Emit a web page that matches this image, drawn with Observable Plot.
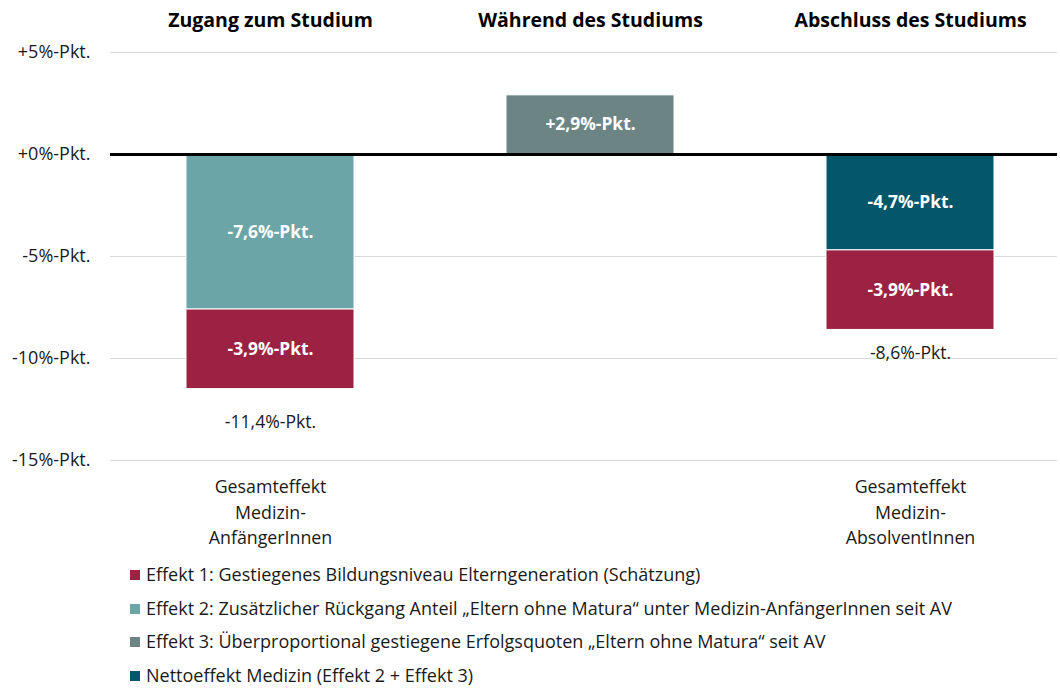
<!DOCTYPE html>
<html><head><meta charset="utf-8">
<script src="https://cdn.jsdelivr.net/npm/d3@7"></script>
<script src="https://cdn.jsdelivr.net/npm/@observablehq/plot@0.6"></script>
<style>
body{margin:0;background:#fff;font-family:"Open Sans",sans-serif;color:#1a1a1a;}
#chart svg{display:block;}
#legend{padding-top:3px;}
.row{height:33.7px;line-height:33.7px;font-size:18px;position:relative;padding-left:146px;white-space:nowrap;}
.sw{position:absolute;left:130px;top:12px;width:10px;height:10px;}
</style></head><body><div id="chart"></div><div id="legend"></div>
<script>
const phases = ["Zugang zum Studium", "Während des Studiums", "Abschluss des Studiums"];
const bottomLabels = ["Gesamteffekt\nMedizin-\nAnfängerInnen", "", "Gesamteffekt\nMedizin-\nAbsolventInnen"];
const seriesNames = [
  "Effekt 1: Gestiegenes Bildungsniveau Elterngeneration (Schätzung)",
  "Effekt 2: Zusätzlicher Rückgang Anteil „Eltern ohne Matura“ unter Medizin-AnfängerInnen seit AV",
  "Effekt 3: Überproportional gestiegene Erfolgsquoten „Eltern ohne Matura“ seit AV",
  "Nettoeffekt Medizin (Effekt 2 + Effekt 3)"
];
const seriesColors = ["#9c2243", "#6ca5a7", "#6d8485", "#04566a"];
const barPhase = [0, 0, 1, 2, 2];
const barSeries = [1, 0, 2, 3, 0];
const barValues = [-7.6, -3.9, 2.9, -4.7, -3.9];
const totalPhase = [0, 2];
const totalValues = [-11.4, -8.6];
const yTicks = [5, 0, -5, -10, -15];

const fmt = v => (v > 0 ? "+" : "") + v.toFixed(1).replace(".", ",") + "%-Pkt.";
const bars = barValues.map((v, i) => ({phase: phases[barPhase[i]], series: seriesNames[barSeries[i]], value: v, label: fmt(v)}));
const totals = totalValues.map((v, i) => ({phase: phases[totalPhase[i]], value: v, label: fmt(v)}));
const cats = phases.map((p, i) => ({phase: p, bottom: bottomLabels[i]}));

const chart = Plot.plot({
  width: 1060, height: 555,
  marginLeft: 110, marginRight: 3, marginTop: 52, marginBottom: 95,
  style: {fontFamily: "'Open Sans', sans-serif", fontSize: "17.4px", color: "#1a1a1a", background: "#fff"},
  x: {domain: phases, range: [110, 1070], paddingInner: 0.475, paddingOuter: 0.2375, axis: null},
  y: {domain: [-15, 5], axis: null},
  color: {domain: seriesNames, range: seriesColors},
  marks: [
    Plot.ruleY(yTicks.filter(d => d !== 0), {stroke: "#d9d9d9", strokeWidth: 1.2}),
    Plot.axisY(yTicks, {label: null, tickSize: 0, tickPadding: 20, tickFormat: d => (d >= 0 ? "+" : "") + d + "%-Pkt.", fontSize: 18, fill: "#1a1a1a"}),
    Plot.barY(bars, {x: "phase", y: "value", fill: "series", stroke: "#fff", strokeWidth: 1}),
    Plot.ruleY([0], {stroke: "#000", strokeWidth: 3}),
    Plot.text(bars, Plot.stackY({x: "phase", y: "value", text: "label", fill: "#fff", fontWeight: "bold", fontSize: 17.4})),
    Plot.text(totals.slice(0, 1), {x: "phase", y: "value", text: "label", dy: 35, fontSize: 17.6, fill: "#1a1a1a"}),
    Plot.text(totals.slice(1), {x: "phase", y: "value", text: "label", dy: 23, fontSize: 17.6, fill: "#1a1a1a"}),
    Plot.text(cats, {x: "phase", text: "phase", frameAnchor: "top", lineAnchor: "middle", dy: -32, fontWeight: "bold", fontSize: 19.5, fill: "#000"}),
    Plot.text(cats, {x: "phase", text: "bottom", frameAnchor: "bottom", lineAnchor: "top", dy: 15, lineHeight: 1.42, fontSize: 17.8, fill: "#1a1a1a"})
  ]
});
document.getElementById("chart").appendChild(chart);

const legend = document.getElementById("legend");
seriesNames.forEach((n, i) => {
  const row = document.createElement("div");
  row.className = "row";
  const sw = document.createElement("span");
  sw.className = "sw";
  sw.style.background = seriesColors[i];
  row.appendChild(sw);
  row.appendChild(document.createTextNode(n));
  legend.appendChild(row);
});
</script></body></html>
